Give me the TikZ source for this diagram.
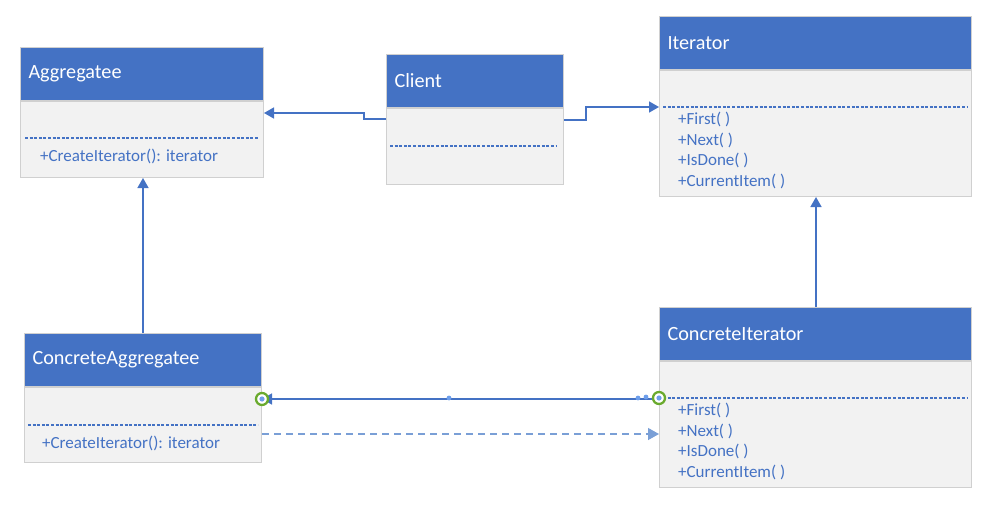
\documentclass[tikz,border=0pt]{standalone}
\usepackage{fontspec}
\setmainfont{Carlito}
\usetikzlibrary{arrows.meta,positioning}
\definecolor{head}{HTML}{4472C4}
\definecolor{body}{HTML}{F2F2F2}
\definecolor{rim}{HTML}{D0D0D0}
\definecolor{soft}{HTML}{7A9FD6}
\definecolor{handle}{HTML}{6AAA2E}
\definecolor{dot}{HTML}{6D9EEB}

\tikzset{
  classhead/.style={rectangle, draw=rim, fill=head, line width=1pt, text=white,
    anchor=north west, inner xsep=8pt, align=left, minimum height=53pt,
    font=\fontsize{20.2}{24}\selectfont},
  classbody/.style={rectangle, draw=rim, fill=body, line width=1pt,
    below=0pt of #1, anchor=north, inner sep=0pt},
  method/.style={anchor=base west, inner sep=0pt, text=head,
    font=\fontsize{17}{20}\selectfont},
  sepline/.style={draw=head, line width=1.3pt, dash pattern=on 3pt off 1.6pt},
  link/.style={draw=head, line width=1.6pt, -{Triangle[width=11pt,length=10pt]}},
  handlemark/.style={circle, draw=handle, fill=white, line width=2.3pt, minimum size=12pt, inner sep=0pt}
}

\begin{document}
\begin{tikzpicture}[x=1pt, y=-1pt]
  \useasboundingbox (0,0) rectangle (1002,514);

  % Aggregatee
  \node[classhead, text width=227pt] (aggh) at (20,47) {Aggregatee};
  \node[classbody=aggh, minimum width=243pt, minimum height=76pt] (aggb) {};
  \draw[sepline] ([xshift=5pt, yshift=-37pt]aggb.north west) -- ([xshift=-5pt, yshift=-37pt]aggb.north east);
  \node[method] at ([xshift=20pt, yshift=-60.5pt]aggb.north west) {+CreateIterator(): iterator};

  % Client
  \node[classhead, text width=161pt] (clienth) at (386,54) {Client};
  \node[classbody=clienth, minimum width=177pt, minimum height=76pt] (clientb) {};
  \draw[sepline] ([xshift=4pt, yshift=-38pt]clientb.north west) -- ([xshift=-7pt, yshift=-38pt]clientb.north east);

  % Iterator
  \node[classhead, text width=296pt] (iterh) at (659,16) {Iterator};
  \node[classbody=iterh, minimum width=312pt, minimum height=126pt] (iterb) {};
  \draw[sepline] ([xshift=4pt, yshift=-37pt]iterb.north west) -- ([xshift=-4pt, yshift=-37pt]iterb.north east);
  \foreach \m [count=\i from 0] in {+First( ), +Next( ), +IsDone( ), +CurrentItem( )}
    \node[method] at ([xshift=19pt, yshift={-(54.5+20.5*\i)*1pt}]iterb.north west) {\m};

  % ConcreteAggregatee
  \node[classhead, text width=221pt] (caggh) at (24,333) {ConcreteAggregatee};
  \node[classbody=caggh, minimum width=237pt, minimum height=75pt] (caggb) {};
  \draw[sepline] ([xshift=4pt, yshift=-38pt]caggb.north west) -- ([xshift=-4pt, yshift=-38pt]caggb.north east);
  \node[method] at ([xshift=18pt, yshift=-61pt]caggb.north west) {+CreateIterator(): iterator};

  % ConcreteIterator
  \node[classhead, text width=296pt] (citerh) at (659,307) {ConcreteIterator};
  \node[classbody=citerh, minimum width=312pt, minimum height=126pt] (citerb) {};
  \draw[sepline] ([xshift=4pt, yshift=-37pt]citerb.north west) -- ([xshift=-4pt, yshift=-37pt]citerb.north east);
  \foreach \m [count=\i from 0] in {+First( ), +Next( ), +IsDone( ), +CurrentItem( )}
    \node[method] at ([xshift=19pt, yshift={-(54.5+20.5*\i)*1pt}]citerb.north west) {\m};

  % Associations from the client
  \draw[link] ([yshift=-11pt]clientb.north west) -- ++(-22,0) |- ([yshift=-12pt]aggb.north east);
  \draw[link] ([yshift=-12pt]clientb.north east) -- ++(22,0) |- ([yshift=-37pt]iterb.north west);

  % Generalisations
  \draw[link] (caggh.north) -- (caggh.north |- aggb.south);
  \draw[link] ([xshift=0.5pt]citerh.north) -- ([xshift=0.5pt]iterb.south);

  % ConcreteIterator to ConcreteAggregatee, and the dashed creation link
  \draw[link] ([yshift=-38pt]citerb.north west) -- ([yshift=-12pt]caggb.north east);
  \draw[link, draw=soft, line width=1.3pt, dash pattern=on 7pt off 5pt, -{Triangle[width=12pt,length=11pt, fill=soft]}]
    ([yshift=-47pt]caggb.north east) -- ([yshift=-73pt]citerb.north west);

  % Selection handles on the solid link
  \node[handlemark] (hleft) at ([yshift=-12pt]caggb.north east) {};
  \node[handlemark] (hright) at ([yshift=-37pt]citerb.north west) {};
  \fill[dot] (hleft) circle (2.6pt);
  \fill[dot] (hright) circle (2.6pt);
  \fill[dot] (449,398) circle (2.4pt);
  \fill[dot] (638,398) circle (2.4pt);
  \fill[dot] (646,397) circle (2.4pt);
\end{tikzpicture}
\end{document}
